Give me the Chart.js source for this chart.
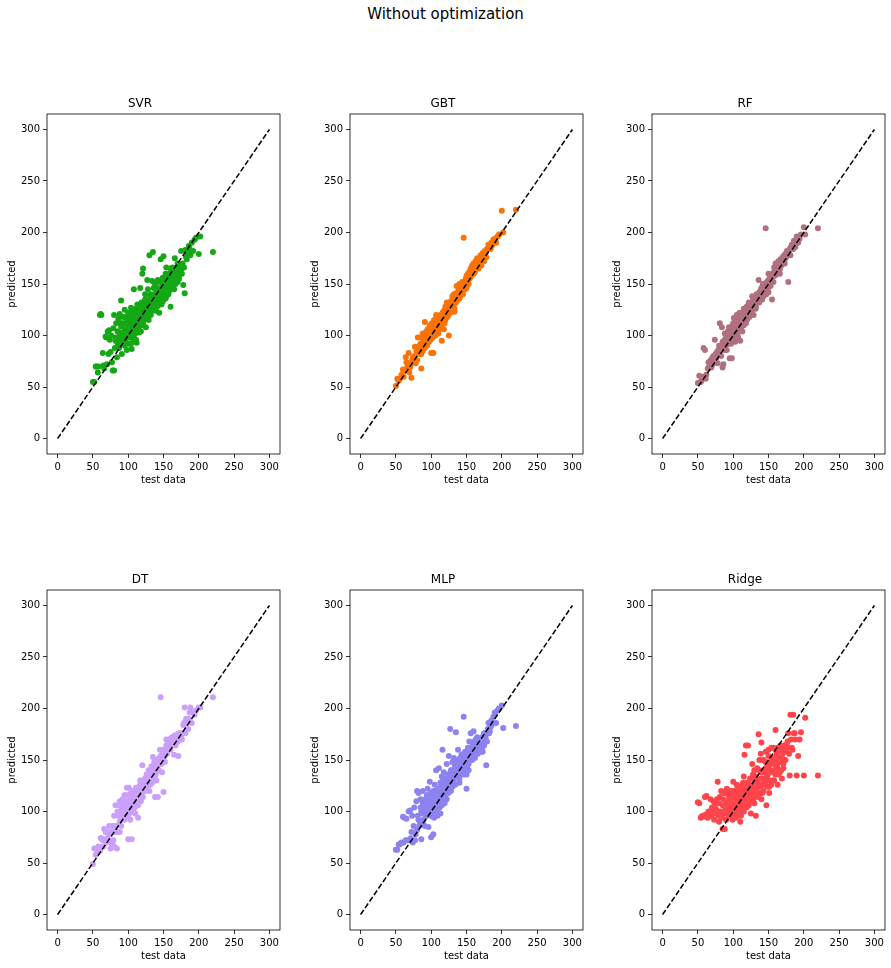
<!DOCTYPE html>
<html>
<head>
<meta charset="utf-8">
<title>Without optimization</title>
<script src="https://cdn.jsdelivr.net/npm/chart.js@4.4.1/dist/chart.umd.min.js"></script>
<style>
  html, body { margin: 0; padding: 0; background: #fff; overflow: hidden; }
  #fig { position: relative; width: 891px; height: 968px; font-family: "DejaVu Sans", sans-serif; }
  #suptitle { position: absolute; left: 0; top: 5px; width: 891px; text-align: center; font-size: 15px; color: #000; }
  #fig canvas { position: absolute; }
</style>
</head>
<body>
<div id="fig">
  <div id="suptitle">Without optimization</div>
</div>
<script>
// axis ticks and the y = x reference line
const tickLabels = [0, 50, 100, 150, 200, 250, 300];
const refLine = [0, 300];

const models = ["SVR", "GBT", "RF", "DT", "MLP", "Ridge"];
const colors = ["#15a815", "#fb7306", "#b0707f", "#cba0fb", "#8c82f0", "#ff444b"];

// shared test set (x of every panel)
const testData = [
  50, 52, 54, 55, 57, 58, 60, 61, 62, 64, 65, 66, 68, 69, 70, 71, 72, 73, 74, 75,
  76, 77, 78, 79, 80, 80, 81, 82, 83, 84, 85, 85, 86, 87, 88, 88, 89, 90, 90, 91, 92, 92, 93, 94, 95, 95,
  96, 96, 97, 98, 98, 99, 100, 100, 101, 101, 102, 103, 103, 104, 105, 105, 106, 107, 107, 108, 109, 110, 110, 111, 112, 112, 113, 114, 115, 115,
  116, 117, 118, 118, 119, 120, 120, 121, 122, 123, 124, 125, 125, 126, 127, 128, 129, 130, 130, 131, 132, 133, 134, 135,
  136, 137, 138, 139, 140, 140, 141, 142, 143, 144, 145, 146, 147, 148, 149, 150, 150, 151, 152, 153, 154, 155,
  156, 157, 158, 159, 160, 160, 161, 162, 163, 164, 165, 166, 167, 168, 169, 170, 171, 172, 173, 175,
  176, 178, 180, 181, 183, 185, 186, 188, 190, 192, 194, 196, 200, 202, 220,
  82, 86, 88, 91, 93, 94, 96, 97, 98, 99, 100, 101, 102, 103, 104, 104, 105, 106, 106, 107,
  108, 108, 109, 109, 110, 111, 111, 112, 113, 113, 114, 114, 115, 116, 117, 117, 118, 119, 119, 120,
  121, 121, 122, 123, 124, 124, 125, 126, 127, 128, 128, 129, 130, 131, 132, 133, 134, 135, 136, 137,
  138, 139, 140, 141, 142, 143, 144, 145, 146, 147, 148, 149, 150, 151, 152, 153, 154, 156, 158, 160,
  161, 162, 163, 164, 165, 166, 167, 168, 169, 170, 171, 172, 173, 174, 175, 177, 179, 182, 184, 187
];

// predicted values, one list per model, same order as testData
const svrPred = [
  55, 55, 70, 70, 64, 70, 120, 121, 120, 83, 71, 68, 99, 98, 72, 104, 82, 105, 96, 84,
  100, 74, 66, 107, 66, 120, 88, 95, 112, 79, 104, 92, 116, 88, 100, 121, 96, 134, 109, 82, 112, 98, 118, 104, 90, 125,
  107, 96, 118, 86, 112, 100, 104, 122, 92, 110, 116, 99, 108, 127, 87, 113, 104, 118, 96, 145, 110, 102, 122, 114, 93, 107, 130, 118, 103, 124,
  112, 146, 104, 126, 118, 160, 110, 165, 122, 116, 135, 108, 128, 120, 154, 132, 115, 178, 125, 138, 120, 131, 153, 181,
  128, 140, 134, 124, 145, 130, 136, 154, 132, 122, 140, 174, 138, 150, 133, 146, 177, 141, 155, 136, 166, 148,
  152, 140, 160, 144, 128, 156, 148, 163, 150, 158, 145, 175, 160, 155, 165, 152, 168, 158, 162, 182,
  160, 149, 141, 183, 174, 180, 187, 178, 190, 182, 193, 195, 179, 196, 181,
  98, 104, 92, 112, 100, 110, 94, 106, 116, 102, 112, 98, 106, 114, 92, 120, 100, 110, 124, 104,
  114, 100, 120, 106, 116, 96, 126, 110, 118, 104, 124, 112, 108, 128, 116, 104, 120, 112, 132, 118,
  126, 112, 130, 120, 116, 140, 124, 132, 118, 128, 145, 122, 134, 126, 140, 130, 124, 138, 146, 132,
  150, 136, 142, 128, 146, 140, 135, 152, 144, 130, 142, 156, 140, 150, 145, 160, 138, 155, 148, 165,
  158, 152, 166, 160, 154, 162, 150, 165, 158, 170, 162, 155, 168, 160, 164, 170, 166, 176, 180, 184
];
const gbtPred = [
  51, 58, 56, 57, 59, 62, 67, 60, 66, 79, 74, 69, 83, 64, 69, 72, 59, 76, 79, 74,
  80, 89, 73, 85, 88, 76, 98, 84, 90, 82, 92, 98, 68, 89, 102, 85, 94, 98, 88, 113, 96, 90, 104, 92, 100, 106,
  94, 102, 100, 110, 96, 103, 83, 105, 112, 98, 108, 83, 104, 115, 100, 109, 112, 104, 120, 107, 114, 102, 111, 118, 106, 113, 120, 108, 116, 95,
  118, 112, 124, 106, 120, 128, 115, 121, 132, 118, 126, 100, 130, 122, 128, 133, 125, 138, 127, 131, 140, 123, 136, 141,
  148, 134, 140, 145, 136, 150, 143, 139, 147, 152, 140, 195, 150, 145, 155, 148, 158, 152, 160, 150, 162, 156,
  165, 158, 168, 162, 160, 170, 166, 164, 172, 168, 175, 166, 170, 174, 168, 178, 172, 176, 180, 176,
  182, 176, 184, 188, 186, 190, 187, 193, 194, 190, 196, 198, 221, 200, 222,
  86, 82, 92, 88, 98, 90, 100, 94, 104, 96, 102, 108, 98, 106, 100, 110, 104, 112, 100, 108,
  112, 104, 115, 106, 114, 108, 118, 110, 116, 108, 120, 112, 110, 122, 114, 120, 116, 124, 112, 120,
  126, 118, 124, 128, 120, 130, 126, 132, 122, 130, 124, 134, 128, 136, 130, 126, 138, 132, 140, 136,
  142, 136, 146, 140, 144, 148, 140, 150, 146, 152, 148, 154, 146, 156, 152, 158, 155, 162, 160, 164,
  166, 162, 170, 166, 168, 172, 165, 170, 174, 172, 168, 176, 174, 178, 172, 180, 184, 186, 184, 190
];
const rfPred = [
  54, 61, 55, 56, 60, 88, 86, 58, 62, 68, 74, 70, 76, 69, 78, 72, 80, 77, 96, 82,
  78, 84, 73, 86, 90, 82, 112, 88, 80, 108, 94, 69, 72, 88, 96, 102, 90, 94, 100, 86, 104, 97, 92, 108, 78, 100,
  98, 106, 92, 78, 104, 110, 96, 112, 100, 117, 106, 94, 110, 114, 102, 120, 108, 98, 112, 105, 122, 95, 115, 108, 118, 112, 104, 120, 126, 110,
  118, 124, 112, 120, 128, 116, 124, 122, 132, 118, 126, 120, 130, 124, 138, 128, 120, 134, 128, 136, 126, 140, 132, 138,
  154, 132, 142, 136, 140, 146, 135, 150, 138, 144, 148, 204, 140, 152, 146, 142, 160, 150, 156, 148, 154, 135,
  160, 152, 166, 158, 162, 170, 160, 168, 164, 172, 166, 160, 174, 168, 170, 176, 172, 178, 174, 180,
  182, 152, 184, 178, 188, 184, 192, 186, 196, 190, 194, 198, 205, 198, 204,
  90, 94, 86, 98, 92, 100, 98, 104, 96, 106, 100, 104, 110, 98, 108, 102, 112, 106, 100, 110,
  108, 116, 106, 114, 110, 118, 106, 114, 112, 120, 110, 118, 122, 114, 120, 112, 124, 118, 122, 116,
  124, 128, 120, 126, 130, 122, 128, 124, 132, 126, 134, 128, 132, 136, 128, 136, 132, 138, 134, 142,
  138, 144, 140, 146, 142, 148, 144, 140, 150, 146, 152, 148, 154, 150, 158, 152, 156, 160, 162, 164,
  164, 168, 160, 166, 170, 164, 172, 168, 174, 170, 176, 172, 170, 178, 176, 180, 182, 186, 188, 190
];
const dtPred = [
  49, 64, 58, 64, 60, 66, 62, 74, 74, 72, 66, 83, 80, 70, 74, 80, 72, 86, 78, 64,
  80, 68, 86, 72, 96, 66, 80, 106, 86, 64, 100, 80, 106, 96, 90, 110, 100, 86, 96, 104, 112, 98, 106, 100, 116, 92,
  104, 96, 110, 123, 100, 106, 73, 116, 98, 123, 110, 104, 92, 118, 106, 73, 112, 100, 120, 110, 104, 116, 98, 122, 112, 106, 118, 94, 124, 110,
  116, 130, 110, 120, 124, 145, 128, 114, 130, 120, 132, 124, 128, 136, 130, 124, 140, 132, 120, 140, 136, 144, 130, 153,
  140, 148, 114, 136, 144, 130, 150, 114, 140, 148, 160, 211, 146, 138, 156, 119, 152, 160, 148, 160, 164, 156,
  166, 160, 170, 164, 170, 160, 168, 172, 166, 170, 155, 172, 164, 170, 174, 168, 154, 176, 170, 172,
  170, 184, 201, 176, 186, 180, 190, 201, 186, 196, 194, 198, 201, 201, 211,
  86, 96, 80, 100, 96, 106, 100, 110, 100, 106, 96, 110, 104, 112, 100, 116, 106, 100, 112, 104,
  110, 118, 104, 112, 118, 106, 123, 112, 116, 120, 110, 106, 120, 116, 112, 126, 118, 124, 114, 126,
  120, 130, 128, 124, 130, 120, 132, 128, 124, 134, 128, 130, 136, 126, 140, 132, 128, 144, 138, 132,
  146, 138, 150, 142, 146, 140, 152, 146, 154, 148, 152, 158, 150, 160, 154, 160, 170, 166, 170, 168,
  170, 166, 172, 168, 170, 174, 166, 172, 170, 168, 172, 176, 170, 174, 170, 176, 186, 190, 188, 196
];
const mlpPred = [
  63, 63, 68, 68, 69, 70, 95, 70, 94, 72, 93, 72, 100, 72, 101, 74, 80, 96, 70, 86,
  104, 72, 78, 110, 120, 82, 96, 118, 86, 90, 112, 104, 73, 98, 108, 120, 92, 104, 110, 86, 112, 100, 96, 116, 106, 122,
  85, 108, 100, 129, 112, 104, 75, 118, 106, 96, 114, 78, 120, 108, 100, 126, 112, 104, 140, 116, 96, 122, 108, 142, 114, 104, 128, 118, 110, 134,
  160, 120, 112, 138, 126, 116, 132, 124, 146, 128, 118, 154, 136, 122, 180, 130, 140, 126, 148, 132, 152, 138, 144, 177,
  150, 142, 160, 134, 146, 128, 152, 138, 155, 144, 140, 192, 136, 158, 148, 122, 150, 142, 162, 146, 168, 156,
  176, 160, 150, 166, 178, 154, 168, 162, 170, 156, 172, 164, 158, 168, 160, 166, 164, 172, 158, 176,
  170, 145, 180, 186, 178, 188, 184, 192, 196, 186, 198, 200, 203, 181, 183,
  92, 100, 88, 108, 96, 114, 100, 104, 110, 96, 106, 112, 100, 118, 94, 108, 102, 114, 120, 104,
  110, 100, 116, 106, 112, 122, 104, 118, 110, 98, 124, 114, 106, 120, 112, 130, 116, 108, 124, 114,
  118, 128, 112, 122, 136, 118, 128, 124, 134, 120, 140, 128, 124, 136, 130, 146, 126, 140, 134, 148,
  138, 146, 132, 150, 140, 136, 148, 142, 156, 138, 152, 146, 136, 154, 148, 140, 158, 150, 162, 156,
  164, 152, 166, 160, 168, 156, 164, 170, 160, 168, 158, 162, 166, 170, 164, 172, 168, 176, 182, 186
];
const ridgePred = [
  109, 108, 94, 95, 96, 95, 114, 97, 115, 94, 100, 98, 112, 96, 104, 100, 110, 92, 106, 98,
  102, 112, 129, 96, 108, 90, 114, 100, 120, 94, 83, 106, 112, 98, 83, 118, 104, 110, 92, 122, 108, 100, 116, 96, 112, 104,
  120, 106, 98, 112, 118, 92, 108, 129, 102, 116, 110, 94, 120, 106, 126, 100, 112, 96, 118, 108, 124, 90, 114, 104, 120, 110, 100, 128, 116, 134,
  155, 122, 108, 164, 118, 112, 128, 164, 106, 124, 115, 98, 132, 120, 146, 112, 126, 108, 140, 122, 96, 130, 118, 126,
  175, 140, 118, 132, 167, 112, 126, 150, 120, 138, 128, 148, 106, 134, 124, 142, 160, 118, 130, 146, 126, 152,
  140, 162, 130, 150, 179, 136, 158, 144, 126, 162, 152, 138, 160, 148, 132, 156, 142, 164, 150, 160,
  165, 176, 135, 194, 162, 194, 176, 170, 135, 154, 170, 177, 135, 191, 135,
  96, 118, 100, 110, 104, 96, 114, 102, 108, 120, 100, 112, 106, 96, 116, 104, 110, 122, 100, 114,
  106, 118, 100, 112, 122, 108, 96, 116, 104, 126, 110, 118, 100, 114, 122, 108, 112, 118, 104, 124,
  116, 128, 108, 120, 114, 132, 110, 124, 118, 136, 112, 120, 128, 116, 134, 122, 142, 114, 128, 150,
  124, 156, 138, 118, 132, 150, 126, 140, 158, 130, 144, 136, 154, 124, 148, 138, 162, 130, 146, 140,
  154, 142, 162, 136, 158, 148, 164, 140, 152, 160, 146, 158, 164, 150, 162, 168, 156, 170, 160, 176
];

const predictions = [svrPred, gbtPred, rfPred, dtPred, mlpPred, ridgePred];

const FONT = "DejaVu Sans";
const panelLeft = [0, 303, 605];
const panelTop = [94, 570];
const W = 286, H = 398;

// box around the plotting area (matplotlib spines)
const framePlugin = {
  id: "frame",
  afterDraw(chart) {
    const a = chart.chartArea;
    const c = chart.ctx;
    c.save();
    c.strokeStyle = "#000";
    c.lineWidth = 0.8;
    c.strokeRect(a.left, a.top, a.right - a.left, a.bottom - a.top);
    c.restore();
  }
};

function axisOpts(label, isX) {
  return {
    type: "linear",
    min: -15,
    max: 315,
    afterBuildTicks: (s) => { s.ticks = tickLabels.map(v => ({ value: v })); },
    afterFit: (s) => { if (isX) s.height = 38; else s.width = 47; },
    grid: { display: true, drawOnChartArea: false, drawTicks: true, tickLength: 4, color: "#000", lineWidth: 0.8 },
    border: { display: false },
    ticks: { color: "#000", font: { family: FONT, size: 10 }, padding: 3, maxRotation: 0, autoSkip: false },
    title: {
      display: true, text: label, color: "#000",
      font: { family: FONT, size: 10 },
      padding: { top: 6, bottom: 6 }
    }
  };
}

const fig = document.getElementById("fig");

models.forEach((name, i) => {
  const canvas = document.createElement("canvas");
  canvas.width = W;
  canvas.height = H;
  canvas.style.left = panelLeft[i % 3] + "px";
  canvas.style.top = panelTop[Math.floor(i / 3)] + "px";
  canvas.style.width = W + "px";
  canvas.style.height = H + "px";
  fig.appendChild(canvas);

  const pred = predictions[i];
  const points = testData.map((x, k) => ({ x: x, y: pred[k] }));

  new Chart(canvas, {
    type: "scatter",
    data: {
      datasets: [
        {
          type: "line",
          data: refLine.map(v => ({ x: v, y: v })),
          borderColor: "#000",
          borderWidth: 1.5,
          borderDash: [5.5, 2.4],
          pointRadius: 0,
          fill: false
        },
        {
          data: points,
          backgroundColor: colors[i],
          borderWidth: 0,
          pointRadius: 3,
          pointHoverRadius: 3
        }
      ]
    },
    options: {
      responsive: false,
      animation: false,
      layout: { padding: { top: 2.6, right: 6, left: 0, bottom: 0 } },
      plugins: {
        legend: { display: false },
        tooltip: { enabled: false },
        title: {
          display: true,
          text: name,
          color: "#000",
          font: { family: FONT, size: 12, weight: "normal" },
          padding: { top: 0, bottom: 3 }
        }
      },
      scales: {
        x: axisOpts("test data", true),
        y: axisOpts("predicted", false)
      }
    },
    plugins: [framePlugin]
  });
});
</script>
</body>
</html>
